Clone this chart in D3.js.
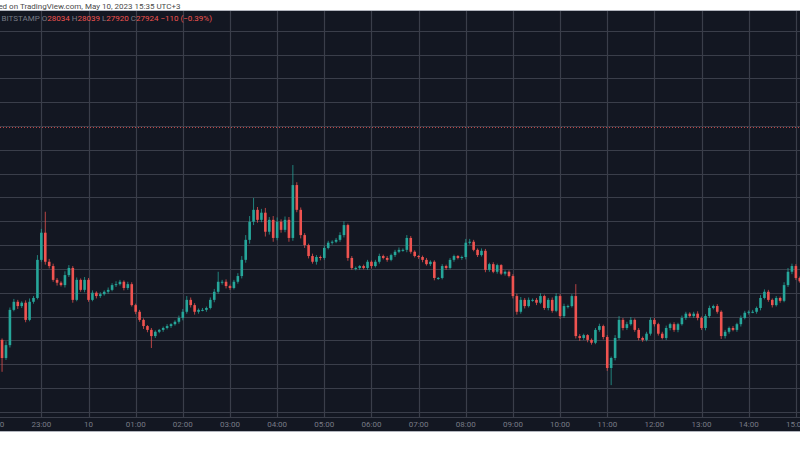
<!DOCTYPE html>
<html>
<head>
<meta charset="utf-8">
<script src="https://cdn.jsdelivr.net/npm/d3@7"></script>
<style>
  html, body { margin: 0; padding: 0; background: #fff; }
  svg { display: block; font-family: Roboto, "Liberation Sans", sans-serif; }
</style>
</head>
<body>
<div id="chart"></div>
<script>
// BTC/USD 5 minute candles, 22:00 -> 15:05 (May 10, 2023)
const closes = [
  27811, 27801, 27763, 27790, 27864, 27881, 27872, 27879, 27843, 27881, 27889, 27969,
  28026, 27965, 27956, 27927, 27921, 27916, 27937, 27952, 27885, 27927, 27906, 27927,
  27885, 27900, 27893, 27897, 27902, 27906, 27916, 27918, 27923, 27910, 27918, 27874,
  27860, 27843, 27830, 27822, 27809, 27818, 27822, 27826, 27830, 27834, 27839, 27847,
  27860, 27885, 27874, 27860, 27864, 27864, 27868, 27885, 27902, 27923, 27923, 27914,
  27910, 27923, 27935, 27969, 28011, 28049, 28074, 28053, 28068, 28028, 28053, 28015,
  28049, 28032, 28053, 28015, 28126, 28074, 28021, 28000, 27977, 27965, 27975, 27973,
  27994, 28005, 28007, 28011, 28021, 28042, 27973, 27952, 27952, 27956, 27952, 27965,
  27956, 27965, 27977, 27973, 27969, 27979, 27986, 27990, 27990, 28015, 27986, 27977,
  27975, 27969, 27960, 27965, 27931, 27931, 27956, 27952, 27969, 27977, 27973, 27975,
  28005, 28007, 27990, 27979, 27988, 27948, 27960, 27944, 27958, 27940, 27944, 27935,
  27893, 27860, 27885, 27872, 27885, 27885, 27879, 27893, 27868, 27885, 27862, 27893,
  27851, 27872, 27872, 27893, 27809, 27805, 27811, 27801, 27795, 27822, 27830, 27807,
  27742, 27763, 27805, 27843, 27826, 27834, 27843, 27822, 27805, 27801, 27814, 27843,
  27834, 27814, 27805, 27826, 27834, 27822, 27834, 27847, 27856, 27851, 27856, 27847,
  27826, 27851, 27868, 27872, 27860, 27809, 27818, 27826, 27822, 27834, 27847, 27858,
  27860, 27860, 27868, 27889, 27902, 27885, 27874, 27889, 27883, 27916, 27944, 27956,
  27931, 27924
]
// wick length above / below the candle body, in USD
const wickUp = [
  4, 6, 3, 8, 5, 6, 4, 3, 5, 7, 4, 10,
  8, 44, 6, 5, 4, 3, 8, 6, 4, 5, 3, 6,
  4, 5, 3, 4, 3, 5, 4, 6, 4, 3, 5, 4,
  3, 4, 3, 2, 4, 3, 2, 3, 4, 2, 3, 5,
  6, 8, 5, 4, 3, 4, 3, 5, 6, 21, 4, 5,
  3, 4, 6, 8, 10, 12, 25, 6, 8, 10, 6, 8,
  9, 5, 7, 6, 42, 6, 5, 4, 3, 5, 4, 3,
  5, 4, 3, 4, 6, 8, 3, 4, 3, 2, 3, 4,
  3, 4, 5, 3, 4, 3, 4, 5, 3, 6, 4, 3,
  2, 3, 4, 3, 3, 2, 4, 3, 4, 3, 2, 3,
  8, 6, 4, 3, 5, 4, 3, 4, 3, 2, 3, 3,
  4, 5, 6, 4, 5, 3, 4, 6, 3, 4, 5, 6,
  4, 5, 3, 4, 25, 4, 3, 2, 3, 4, 5, 3,
  4, 3, 6, 8, 4, 5, 6, 3, 4, 3, 4, 5,
  4, 3, 4, 5, 3, 4, 3, 5, 4, 3, 4, 5,
  3, 4, 5, 3, 4, 3, 4, 3, 4, 3, 5, 4,
  3, 4, 3, 6, 5, 4, 3, 4, 3, 6, 8, 5,
  4, 3
]
const wickDown = [
  5, 6, 29, 4, 5, 3, 6, 4, 5, 3, 4, 3,
  4, 6, 5, 4, 6, 3, 5, 4, 6, 3, 4, 5,
  4, 3, 5, 4, 3, 4, 3, 4, 3, 5, 4, 3,
  5, 4, 6, 5, 25, 4, 3, 4, 3, 4, 3, 4,
  5, 4, 5, 6, 4, 3, 4, 3, 5, 4, 6, 5,
  4, 3, 4, 5, 6, 8, 7, 6, 5, 10, 6, 8,
  5, 6, 5, 8, 6, 5, 7, 6, 5, 4, 6, 5,
  4, 3, 4, 3, 4, 5, 6, 4, 5, 4, 3, 4,
  5, 3, 4, 3, 4, 3, 4, 3, 4, 5, 4, 3,
  4, 5, 3, 4, 5, 4, 3, 4, 3, 4, 3, 4,
  5, 4, 3, 4, 3, 5, 4, 3, 4, 3, 4, 3,
  5, 6, 4, 5, 3, 4, 5, 3, 4, 5, 4, 3,
  6, 4, 5, 3, 5, 6, 4, 5, 4, 3, 4, 5,
  6, 36, 5, 4, 5, 4, 3, 4, 5, 4, 3, 4,
  5, 4, 3, 4, 5, 4, 5, 3, 4, 3, 4, 5,
  4, 5, 4, 3, 4, 6, 5, 4, 3, 4, 5, 3,
  4, 3, 4, 5, 3, 4, 5, 3, 4, 3, 4, 5,
  4, 3
]
const timeLabels = ['22:00', '23:00', '10', '01:00', '02:00', '03:00', '04:00', '05:00', '06:00',
  '07:00', '08:00', '09:00', '10:00', '11:00', '12:00', '13:00', '14:00', '15:00']
const priceTicks = d3.range(27650, 28451, 50)
const legendValues = ['28034', '28039', '27920', '27924', '\u2212110 (\u22120.39%)']

const width = 800, height = 450
const panelTop = 11, panelBottom = 431, axisLine = 417

const svg = d3.select('#chart').append('svg')
  .attr('width', width).attr('height', height)

svg.append('rect').attr('width', width).attr('height', height).attr('fill', '#ffffff')
svg.append('rect')
  .attr('x', 0).attr('y', panelTop)
  .attr('width', width).attr('height', panelBottom - panelTop)
  .attr('fill', '#131722')

const t0 = new Date(2023, 4, 9, 22, 0)
const time = i => new Date(t0.getTime() + i * 5 * 60000)
const x = d3.scaleTime()
  .domain([t0, time(205)])
  .range([-5.8, 799.8])
const y = d3.scaleLinear().domain([27700, 28250]).range([388, 126])

// grid
const grid = svg.append('g')
grid.selectAll('line.h').data(priceTicks).enter()
  .append('line')
  .attr('x1', 0).attr('x2', width)
  .attr('y1', d => Math.round(y(d)) + 0.5).attr('y2', d => Math.round(y(d)) + 0.5)
  .attr('stroke', '#3a3e4a').attr('stroke-width', 1.2)
const hours = timeLabels.map((l, i) => time(i * 12))
grid.selectAll('line.v').data(hours).enter()
  .append('line')
  .attr('x1', d => Math.round(x(d)) + 0.5).attr('x2', d => Math.round(x(d)) + 0.5)
  .attr('y1', panelTop).attr('y2', axisLine)
  .attr('stroke', '#3a3e4a').attr('stroke-width', 1.2)

// price line
svg.append('line')
  .attr('x1', 0).attr('x2', width)
  .attr('y1', 127.5).attr('y2', 127.5)
  .attr('stroke', '#ef5350').attr('stroke-width', 1)
  .attr('stroke-dasharray', '1,2').attr('opacity', 0.8)

// candles
const candles = closes.map((c, i) => {
  const o = i === 0 ? c + 10 : closes[i - 1]
  return { t: time(i), o, c, h: Math.max(o, c) + wickUp[i], l: Math.min(o, c) - wickDown[i] }
})
const up = '#26a69a', down = '#ef5350'
const cg = svg.append('g')
cg.selectAll('line.wick').data(candles).enter()
  .append('line')
  .attr('x1', d => x(d.t)).attr('x2', d => x(d.t))
  .attr('y1', d => y(d.h)).attr('y2', d => y(d.l))
  .attr('stroke', d => d.c >= d.o ? up : down).attr('stroke-width', 1)
  .attr('opacity', 0.75)
cg.selectAll('rect').data(candles).enter()
  .append('rect')
  .attr('x', d => x(d.t) - 1.3).attr('width', 2.6)
  .attr('y', d => y(Math.max(d.o, d.c)))
  .attr('height', d => Math.max(1, Math.abs(y(d.o) - y(d.c))))
  .attr('fill', d => d.c >= d.o ? up : down)

// time axis
svg.append('line')
  .attr('x1', 0).attr('x2', width).attr('y1', axisLine + 0.5).attr('y2', axisLine + 0.5)
  .attr('stroke', '#3a3e4a').attr('stroke-width', 1.2)
svg.append('rect').attr('x', 0).attr('y', axisLine + 1).attr('width', width)
  .attr('height', panelBottom - axisLine - 1).attr('fill', '#131722')
svg.selectAll('text.time').data(timeLabels).enter()
  .append('text')
  .attr('x', (d, i) => x(hours[i])).attr('y', 427)
  .attr('text-anchor', 'middle')
  .attr('font-size', 8).attr('fill', '#787b86')
  .text(d => d)
svg.append('line')
  .attr('x1', 0).attr('x2', width).attr('y1', panelBottom + 0.5).attr('y2', panelBottom + 0.5)
  .attr('stroke', '#b2b5be')

// header + legend
svg.append('text').attr('x', -28).attr('y', 8.5)
  .attr('font-size', 8).attr('fill', '#4a4a4a')
  .text('Published on TradingView.com, May 10, 2023 15:35 UTC+3')
svg.append('line').attr('x1', 0).attr('x2', width).attr('y1', panelTop - 0.5).attr('y2', panelTop - 0.5)
  .attr('stroke', '#b2b5be')

const legend = svg.append('text').attr('x', -2).attr('y', 21)
  .attr('font-size', 8).attr('fill', '#787b86')
legend.append('tspan').text(', BITSTAMP   O')
legend.append('tspan').attr('fill', '#ef5350').text(legendValues[0])
legend.append('tspan').text('  H')
legend.append('tspan').attr('fill', '#ef5350').text(legendValues[1])
legend.append('tspan').text('  L')
legend.append('tspan').attr('fill', '#ef5350').text(legendValues[2])
legend.append('tspan').text('  C')
legend.append('tspan').attr('fill', '#ef5350').text(legendValues[3])
legend.append('tspan').attr('fill', '#ef5350').text('  ' + legendValues[4])
</script>
</body>
</html>
